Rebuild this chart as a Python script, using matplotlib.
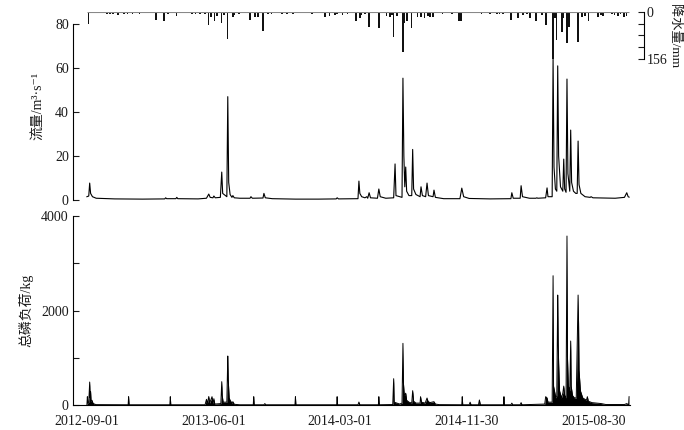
import numpy as np
import matplotlib
matplotlib.use("Agg")
import matplotlib.pyplot as plt
from matplotlib.ticker import FixedLocator, NullFormatter

START = np.datetime64("2012-09-01")

# ---- flow (m3/s): vertices (day offset from 2012-09-01, value)
flow_day = [0, 4, 6, 8, 12, 20, 60, 120, 168, 170, 172, 192, 194, 196, 240, 258, 263, 266, 272, 274,
            277, 288, 291, 293, 302, 304, 306, 309, 313, 315, 318, 330, 352, 354, 357, 380, 382, 385,
            400, 450, 500, 538, 540, 543, 585, 587, 589, 593, 600, 604, 606, 609, 612, 627, 630, 633,
            645, 662, 665, 667, 680, 682, 684, 686, 688, 690, 695, 701, 703, 705, 710, 719, 721, 724,
            731, 734, 737, 747, 749, 752, 770, 805, 809, 813, 825, 870, 915, 917, 920, 935, 937, 940,
            955, 969, 971, 973, 990, 993, 995, 1004, 1006, 1008, 1011, 1014, 1016, 1018, 1022, 1027,
            1029, 1031, 1034, 1036, 1038, 1042, 1044, 1046, 1050, 1055, 1058, 1060, 1062, 1066, 1075,
            1086, 1088, 1092, 1140, 1160, 1165, 1168, 1170]
flow_val = [1.5, 1.8, 7.7, 3.0, 1.5, 0.8, 0.5, 0.4, 0.5, 1.0, 0.6, 0.6, 1.2, 0.6, 0.5, 0.8, 2.7, 1.2, 1.0, 1.8,
            1.0, 1.2, 12.7, 3.0, 1.5, 47, 8, 2.5, 1.2, 2.0, 1.0, 0.8, 0.8, 1.5, 0.8, 0.9, 3.0, 1.0,
            0.6, 0.4, 0.4, 0.5, 1.0, 0.5, 0.6, 8.6, 3.0, 1.5, 1.0, 1.5, 0.8, 3.3, 1.0, 0.8, 5.0, 1.5,
            0.8, 1.0, 16.4, 2.0, 1.2, 55.4, 20, 6, 15, 4, 2, 2, 23, 5, 2.5, 1.5, 6, 2,
            1.5, 7.7, 2, 1.5, 4.5, 1.2, 0.6, 0.6, 5.4, 1.5, 0.7, 0.5, 0.6, 3.3, 0.8, 0.8, 6.5, 1.5,
            0.8, 0.8, 1.0, 0.8, 1.0, 5.5, 1.5, 1.5, 64, 15, 5, 4, 61, 20, 6, 4,
            18.6, 5, 3.5, 55, 12, 4, 31.8, 8, 4, 3, 3, 26.8, 7, 3, 1.5,
            1.2, 1.5, 1.0, 0.8, 1.2, 3.3, 1.5, 1.3]

# ---- precipitation (mm)
rain_day = [4, 43, 50, 56, 67, 80, 88, 99, 108, 114, 149, 166, 175, 194, 227, 235, 244, 255, 263, 268,
            276, 281, 291, 296, 304, 315, 319, 328, 352, 363, 369, 380, 391, 399, 421, 432, 445, 486,
            514, 524, 535, 540, 552, 563, 581, 589, 593, 600, 609, 630, 647, 654, 658, 662, 669, 682,
            686, 691, 701, 714, 721, 729, 736, 740, 747, 768, 779, 788, 803, 805, 807, 809, 852, 863,
            870, 885, 891, 898, 915, 930, 941, 950, 956, 969, 982, 991, 1006, 1010, 1014, 1025, 1029,
            1036, 1040, 1060, 1068, 1075, 1083, 1103, 1109, 1114, 1133, 1139, 1146, 1152, 1159, 1165]
rain_mm = [40, 7, 5, 6, 10, 5, 5, 5, 4, 5, 27, 29, 5, 13, 5, 6, 5, 8, 44, 15,
           30, 12, 38, 10, 91, 18, 10, 6, 27, 15, 18, 62, 8, 6, 5, 7, 6, 8,
           18, 12, 10, 8, 10, 8, 29, 20, 10, 8, 49, 54, 12, 15, 10, 82, 12, 134,
           37, 30, 54, 18, 15, 20, 12, 15, 16, 5, 4, 5, 29, 29, 29, 29, 5, 4,
           5, 8, 6, 8, 27, 21, 10, 8, 21, 30, 10, 42, 156, 20, 93, 68, 20,
           102, 50, 101, 15, 12, 29, 15, 10, 12, 8, 10, 12, 8, 15, 12]

# ---- total phosphorus load (kg)
load_day = [0, 1, 2, 4, 6, 7, 8, 9, 11, 13, 16, 20, 89, 90, 91, 179, 180, 181, 255, 258, 260, 263, 265,
            270, 272, 274, 276, 289, 291, 292, 294, 302, 304, 305, 307, 309, 313, 315, 318, 330, 359,
            360, 361, 382, 384, 386, 449, 450, 451, 539, 540, 541, 585, 587, 589, 629, 630, 631, 660,
            662, 663, 675, 680, 682, 683, 685, 688, 690, 695, 701, 703, 705, 710, 719, 720, 722, 730,
            734, 736, 740, 749, 752, 760, 809, 810, 811, 825, 827, 829, 845, 847, 849, 899, 900, 901,
            915, 917, 919, 935, 937, 939, 988, 990, 993, 995, 1004, 1006, 1007, 1009, 1012, 1014, 1016,
            1017, 1018, 1020, 1024, 1027, 1029, 1031, 1034, 1036, 1037, 1039, 1042, 1044, 1045, 1048,
            1052, 1056, 1060, 1061, 1062, 1065, 1070, 1078, 1080, 1082, 1090, 1100, 1110, 1120, 1160,
            1165, 1169, 1170]
load_kg = [5, 176, 40, 60, 486, 150, 282, 80, 100, 40, 20, 8, 5, 176, 5, 5, 176, 5, 5, 120, 30, 180, 40,
           176, 30, 133, 20, 30, 494, 200, 60, 60, 1037, 530, 150, 100, 40, 70, 15, 5, 5,
           176, 5, 5, 30, 5, 5, 176, 5, 5, 176, 5, 5, 63, 5, 5, 176, 5, 10,
           557, 60, 20, 40, 1305, 472, 200, 250, 100, 60, 40, 303, 80, 40, 40, 176, 60, 40,
           148, 80, 50, 70, 20, 8, 5, 176, 5, 5, 60, 5, 5, 106, 5, 5, 176, 5,
           5, 40, 5, 5, 50, 5, 20, 176, 150, 60, 60, 2736, 400, 300, 150, 200, 2327,
           1310, 888, 300, 150, 250, 400, 200, 150, 3576, 1023, 400, 300, 1354, 400, 200,
           150, 150, 2327, 1728, 740, 300, 150, 100, 176, 80, 50, 40, 30, 10, 10,
           30, 5, 176]

xtick_labels = ["2012-09-01", "2013-06-01", "2014-03-01", "2014-11-30", "2015-08-30"]
flow_ticks = [0, 20, 40, 60, 80]
rain_ticks = [0, 39, 78, 117, 156]
load_major = [0, 2000, 4000]
load_minor = [1000, 3000]

def to_dates(days):
    return (START + np.array(days, dtype="timedelta64[D]")).astype("datetime64[D]")

FS = ["Liberation Serif", "Noto Sans CJK SC", "DejaVu Serif"]
plt.rcParams["font.family"] = FS
plt.rcParams["axes.linewidth"] = 0.8
TXT = "#1a1a1a"

W, H = 684, 430
fig = plt.figure(figsize=(W / 100, H / 100), dpi=100)

def rect(l, r, t, b):
    return [l / W, 1 - b / H, (r - l) / W, (b - t) / H]

xmin = START + np.timedelta64(-30, "D")
xmax = START + np.timedelta64(1172, "D")

# flow axes
ax1 = fig.add_axes(rect(73, 630, 12, 200))
ax1.plot(to_dates(flow_day), flow_val, color="black", lw=0.8)
ax1.set_xlim(xmin, xmax)
ax1.set_ylim(0, 85.5)
for s in ["top", "right", "bottom"]:
    ax1.spines[s].set_visible(False)
ax1.spines["left"].set_bounds(0, 80)
ax1.set_yticks(flow_ticks)
ax1.tick_params(axis="y", direction="in", length=4, width=0.8, labelsize=10, colors=TXT, pad=3)
ax1.set_xticks([])
ax1.set_ylabel("流量/m³·s⁻¹", fontsize=10, color=TXT, labelpad=8)

# precipitation axes
ax2 = fig.add_axes(rect(73, 630, 12, 59))
ax2.patch.set_alpha(0)
rd = to_dates(rain_day)
ax2.bar(rd, rain_mm, width=np.timedelta64(3, "D"), color="#111111", align="center", linewidth=0)
ax2.hlines(0, to_dates([0])[0], to_dates([1170])[0], color="#888888", lw=0.8)
ax2.set_xlim(xmin, xmax)
ax2.set_ylim(156, 0)
for s in ["top", "left", "bottom"]:
    ax2.spines[s].set_visible(False)
ax2.spines["right"].set_position(("outward", 10))
ax2.yaxis.tick_right()
ax2.set_yticks(rain_ticks)
ax2.set_yticklabels(["0", "", "", "", "156"])
ax2.tick_params(axis="y", direction="in", length=4, width=0.8, labelsize=10, colors=TXT, pad=2)
ax2.set_xticks([])
fig.text(674 / W, 1 - 36 / H, "降水量/mm", fontsize=9.5, color=TXT, rotation=270,
         ha="center", va="center")

# load axes
ax3 = fig.add_axes(rect(73, 630, 216, 405))
ld = to_dates(load_day)
ax3.fill_between(ld, 0, load_kg, color="black", lw=0)
ax3.plot(ld, load_kg, color="black", lw=0.7)
ax3.set_xlim(xmin, xmax)
ax3.set_ylim(0, 4000)
for s in ["top", "right"]:
    ax3.spines[s].set_visible(False)
ax3.set_yticks(load_major)
ax3.yaxis.set_minor_locator(FixedLocator(load_minor))
ax3.yaxis.set_minor_formatter(NullFormatter())
ax3.tick_params(axis="y", which="both", direction="in", length=4, width=0.8, labelsize=10, colors=TXT, pad=3)
xt = [np.datetime64(s) for s in xtick_labels]
ax3.set_xticks(xt)
ax3.set_xticklabels(xtick_labels)
ax3.tick_params(axis="x", length=0, labelsize=10, colors=TXT, pad=7)
ax3.set_ylabel("总磷负荷/kg", fontsize=10, color=TXT, labelpad=6)

fig.savefig("out.png", dpi=100)
